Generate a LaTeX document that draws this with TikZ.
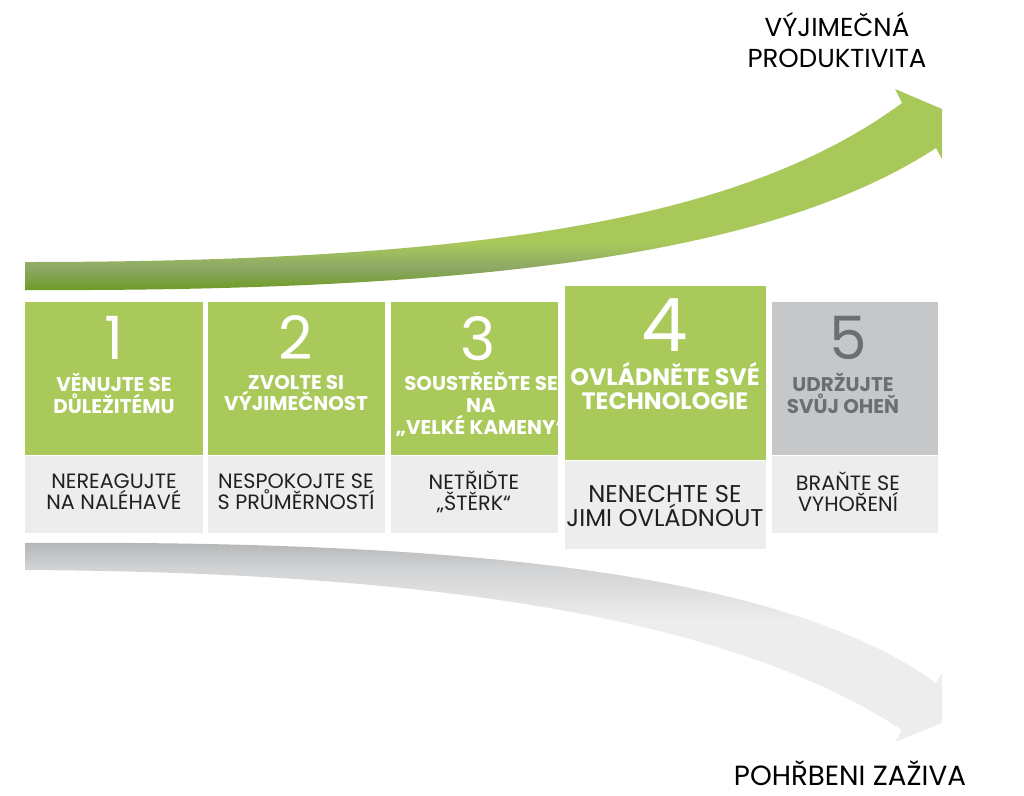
\documentclass[tikz,border=0pt]{standalone}
\usepackage{fontspec}
\setmainfont{Poppins}
\usetikzlibrary{positioning}

\definecolor{stepgreen}{HTML}{A9C95A}
\definecolor{stepgray}{HTML}{C6C7C9}
\definecolor{notegray}{HTML}{EDEDED}
\definecolor{textgray}{HTML}{6D6E71}
\definecolor{inkblack}{HTML}{231F20}
\definecolor{greendark}{HTML}{6A9A1E}
\definecolor{greenolive}{HTML}{8DA866}
\definecolor{greenlight}{HTML}{A8C85A}
\definecolor{graydark}{HTML}{B2B3B5}
\definecolor{graymid}{HTML}{D2D3D4}
\definecolor{graylight}{HTML}{EDEDED}

\pgfdeclareverticalshading{risefill}{100bp}{color(0bp)=(greendark); color(25bp)=(greendark); color(31bp)=(greenolive); color(37bp)=(greenlight); color(100bp)=(greenlight)}
\pgfdeclareverticalshading{fallfill}{100bp}{color(0bp)=(graylight); color(55bp)=(graylight); color(68bp)=(graymid); color(75bp)=(graydark); color(100bp)=(graydark)}

\tikzset{
  stepbox/.style={anchor=north west, inner sep=0pt, fill=stepgreen, minimum height=3.06cm},
  notebox/.style={inner sep=0pt, fill=notegray, minimum height=1.54cm},
  digit/.style={text=white, inner sep=0pt, text depth=0pt, font=\fontsize{34}{34}\selectfont},
  steptitle/.style={text=white, inner sep=0pt, align=center, font=\bfseries\fontsize{11.3}{12.5}\selectfont},
  notetext/.style={text=inkblack, inner sep=0pt, align=center, font=\fontsize{11.8}{12}\selectfont},
  endlabel/.style={text=black, align=center, font=\fontsize{14.8}{17.5}\selectfont},
}

\begin{document}
\begin{tikzpicture}[x=0.02cm, y=-0.02cm]
  \useasboundingbox (0,0) rectangle (1024,795);

  % rising and falling arrows
  \shade[shading=risefill] (25,262) -- (25,290) .. controls (500,292) and (780,250) .. (936,148)
    -- (942,159) -- (942,109) -- (895,89) -- (902,103) .. controls (750,215) and (500,262) .. (25,262) -- cycle;
  \shade[shading=fallfill] (25,543) .. controls (450,540) and (780,570) .. (936,683)
    -- (942,673) -- (942,723) -- (895,742) -- (902,730) .. controls (720,610) and (400,572) .. (25,570) -- cycle;

  \node[endlabel] (top) at (837,40) {VÝJIMEČNÁ\\PRODUKTIVITA};
  \node[endlabel, font=\fontsize{15.8}{17.5}\selectfont] (bottom) at (850,773) {POHŘBENI ZAŽIVA};

  % step boxes
  \node[stepbox, minimum width=3.56cm] (step1) at (25,302) {};
  \node[notebox, minimum width=3.56cm, below=0pt of step1] (note1) {};
  \node[stepbox, minimum width=3.54cm] (step2) at (208,302) {};
  \node[notebox, minimum width=3.54cm, below=0pt of step2] (note2) {};
  \node[stepbox, minimum width=3.34cm] (step3) at (391,302) {};
  \node[notebox, minimum width=3.34cm, below=0pt of step3] (note3) {};

  \node[digit] (d1) at (114,338) {1};
  \node[steptitle] (t1) at (114,393) {VĚNUJTE SE\\DŮLEŽITÉMU};
  \node[notetext] (n1) at (114,492) {NEREAGUJTE\\NA NALÉHAVÉ};
  \node[digit] (d2) at (296,338) {2};
  \node[steptitle] (t2) at (296,393) {ZVOLTE SI\\VÝJIMEČNOST};
  \node[notetext] (n2) at (296,492) {NESPOKOJTE SE\\S PRŮMĚRNOSTÍ};
  \node[digit] (d3) at (478,338) {3};
  \node[steptitle] (t3) at (481,404) {SOUSTŘEĎTE SE\\NA\\„VELKÉ KAMENY“};
  \node[notetext] (n3) at (474,492) {NETŘIĎTE\\„ŠTĚRK“};

  \node[stepbox, minimum width=4.02cm, minimum height=3.48cm] (step4) at (565,286) {};
  \node[notebox, minimum width=4.02cm, minimum height=1.76cm, below=0pt of step4] (note4) {};
  \node[digit, font=\fontsize{42}{42}\selectfont] (d4) at (665,325) {4};
  \node[steptitle, font=\bfseries\fontsize{13.5}{13.6}\selectfont] (t4) at (665,386) {OVLÁDNĚTE SVÉ\\TECHNOLOGIE};
  \node[notetext, font=\fontsize{13.8}{14.2}\selectfont] (n4) at (665,506) {NENECHTE SE\\JIMI OVLÁDNOUT};

  \node[stepbox, fill=stepgray, minimum width=3.32cm] (step5) at (772,302) {};
  \node[notebox, minimum width=3.32cm, below=0pt of step5] (note5) {};
  \node[digit, text=textgray] (d5) at (848,338) {5};
  \node[steptitle, text=textgray] (t5) at (843,393) {UDRŽUJTE\\SVŮJ OHEŇ};
  \node[notetext] (n5) at (848,492) {BRAŇTE SE\\VYHOŘENÍ};
\end{tikzpicture}
\end{document}
